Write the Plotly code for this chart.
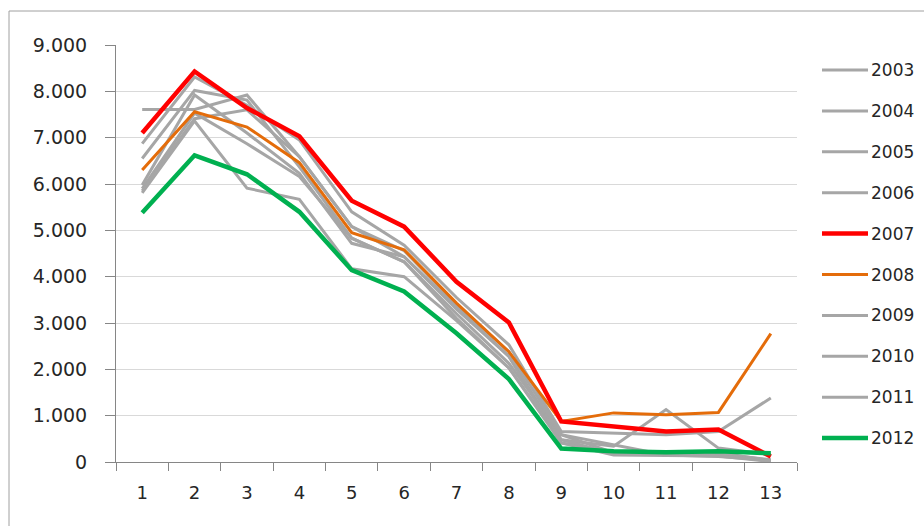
import plotly.graph_objects as go

# Categories along the x axis
categories = [str(i) for i in range(1, 14)]

# Values per year
y2003 = [7610, 7610, 7920, 6590, 5080, 4430, 3300, 2280, 480, 340, 1130, 300, 160]
y2004 = [6870, 8310, 7700, 6950, 5400, 4680, 3550, 2530, 660, 625, 590, 660, 1380]
y2005 = [6550, 8020, 7810, 6370, 4830, 4320, 3200, 2130, 590, 200, 170, 180, 50]
y2006 = [5980, 7920, 7100, 6230, 4720, 4430, 3350, 2280, 410, 220, 180, 200, 30]
y2007 = [7100, 8430, 7640, 7030, 5640, 5080, 3890, 3010, 875, 770, 660, 700, 120]
y2008 = [6300, 7560, 7230, 6460, 4950, 4580, 3430, 2380, 875, 1060, 1020, 1070, 2770]
y2009 = [5900, 7530, 6870, 6160, 4830, 4320, 3100, 2030, 480, 180, 160, 150, 20]
y2010 = [5810, 7360, 5910, 5670, 4170, 4000, 3050, 2030, 410, 150, 140, 130, 10]
y2011 = [5850, 7410, 7600, 6590, 5080, 4560, 3400, 2380, 590, 370, 150, 120, 40]
y2012 = [5380, 6620, 6210, 5400, 4140, 3680, 2780, 1790, 290, 230, 210, 230, 190]

years = ["2003", "2004", "2005", "2006", "2007", "2008", "2009", "2010", "2011", "2012"]
series = [y2003, y2004, y2005, y2006, y2007, y2008, y2009, y2010, y2011, y2012]

y_ticks = [0, 1000, 2000, 3000, 4000, 5000, 6000, 7000, 8000, 9000]

GREY = "#A6A6A6"
style = {
    "2007": ("#FF0000", 4.5),
    "2008": ("#E46C0A", 3),
    "2012": ("#00B050", 4.5),
}

fig = go.Figure()

# grey years first, highlighted years drawn on top
order = [y for y in years if y not in style] + ["2008", "2007", "2012"]
for yr in order:
    color, width = style.get(yr, (GREY, 3))
    fig.add_trace(go.Scatter(
        x=categories, y=series[years.index(yr)], mode="lines", name=yr,
        line=dict(color=color, width=width), showlegend=False,
    ))

# plot-area geometry (pixels) used for the hand-placed legend
W, H = 924, 526
L, R, T, B = 116, 127, 45, 64
pw, ph = W - L - R, H - T - B


def px_x(px):
    return (px - L) / pw


def px_y(py):
    return (H - B - py) / ph


shapes = []
annotations = []
for i, yr in enumerate(years):
    color, width = style.get(yr, (GREY, 3))
    cy = 70 + i * 40.9
    shapes.append(dict(type="line", xref="paper", yref="paper",
                       x0=px_x(822), x1=px_x(868), y0=px_y(cy), y1=px_y(cy),
                       line=dict(color=color, width=width)))
    annotations.append(dict(xref="paper", yref="paper", x=px_x(869), y=px_y(cy),
                            text=yr, showarrow=False, xanchor="left", yanchor="middle",
                            font=dict(family="DejaVu Sans", size=17, color="#262626")))

# outer chart border
shapes.append(dict(type="rect", xref="paper", yref="paper",
                   x0=px_x(9), x1=px_x(1000), y0=px_y(600), y1=px_y(11),
                   line=dict(color="#A0A0A0", width=1), fillcolor="rgba(0,0,0,0)",
                   layer="below"))

fig.update_layout(
    width=W, height=H,
    margin=dict(l=L, r=R, t=T, b=B, pad=0),
    paper_bgcolor="white", plot_bgcolor="white",
    separators=",.",
    shapes=shapes, annotations=annotations,
    font=dict(family="DejaVu Sans", size=18, color="#262626"),
    xaxis=dict(
        type="category", categoryorder="array", categoryarray=categories,
        range=[-0.5, len(categories) - 0.5],
        tickson="boundaries", ticks="outside", ticklen=8, tickcolor="#868686",
        showline=True, linecolor="#868686", linewidth=1,
        showgrid=False, zeroline=False, ticklabelstandoff=14,
        tickfont=dict(family="DejaVu Sans", size=18, color="#262626"),
    ),
    yaxis=dict(
        range=[0, 9000], tickvals=y_ticks, tickformat=",d",
        ticks="outside", ticklen=10, tickcolor="#868686",
        showline=True, linecolor="#868686", linewidth=1,
        showgrid=True, gridcolor="#D9D9D9", gridwidth=1, zeroline=False,
        ticklabelstandoff=14,
        tickfont=dict(family="DejaVu Sans", size=19, color="#262626"),
    ),
)

fig.write_html("out.html")
